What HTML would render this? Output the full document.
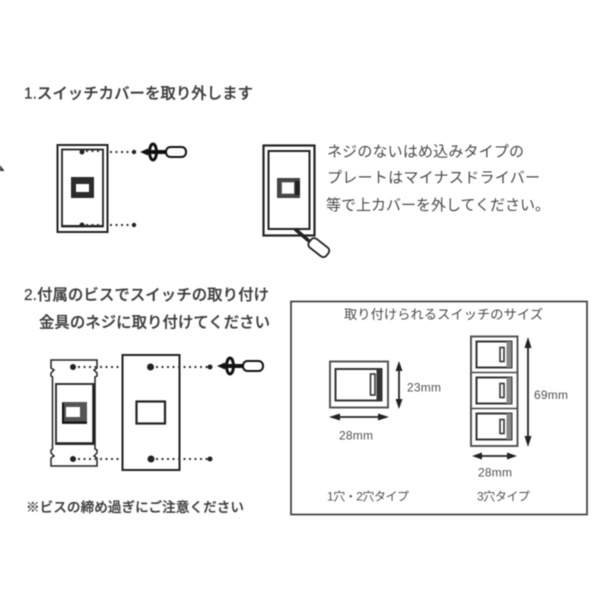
<!DOCTYPE html>
<html lang="ja"><head><meta charset="utf-8"><title>スイッチカバー</title>
<style>
html,body{margin:0;padding:0;background:#fff}
svg{display:block;filter:blur(.45px)}
text{font-family:"Liberation Sans","Noto Sans CJK JP",sans-serif;fill:#4a4a4a}
.h{font-size:15.4px;font-weight:500;fill:#3c3c3c;stroke:#3c3c3c;stroke-width:.25px}
.t{font-size:15px;fill:#484848}
.s{font-size:12px;fill:#505050}
.d{stroke:#333;stroke-width:2;stroke-dasharray:2 3.500;fill:none}
.l{fill:none;stroke:#222}
</style></head><body>
<svg width="600" height="600" viewBox="0 0 600 600" xmlns="http://www.w3.org/2000/svg">
<defs>
<g id="drv">
  <path d="M0 0l8-3.500v7z" fill="#111"/>
  <ellipse cx="13" cy="0" rx="3.500" ry="8" fill="none" stroke="#111" stroke-width="3"/>
  <rect x="6" y="-2" width="21" height="4" fill="#111"/>
  <rect x="26" y="-5" width="20" height="10" rx="4.500" fill="#fff" stroke="#111" stroke-width="2"/>
</g>
<g id="cell">
  <rect x="1" y="1" width="35" height="26" fill="#fff" stroke="#333" stroke-width="2"/>
  <rect x="31" y="1" width="5" height="26" fill="#888"/>
  <rect x="24.500" y="7" width="4" height="14" fill="#fff" stroke="#333" stroke-width="1.600"/>
</g>
</defs>

<path d="M0 165l4.500 6H0z" fill="#333"/>

<text class="h" x="24" y="98.500" textLength="229">1.スイッチカバーを取り外します</text>

<!-- diagram 1 -->
<rect x="57.500" y="145" width="50" height="87" class="l" stroke-width="2"/>
<rect x="62" y="149.500" width="41" height="77" class="l" stroke-width="1.800"/>
<path d="M62 226h41" stroke="#222" stroke-width="2"/>
<circle cx="82" cy="152" r="2.500" fill="#222"/><circle cx="82" cy="225" r="2.500" fill="#222"/>
<path d="M86 151h16M86 225h16" class="d"/>
<rect x="71" y="177" width="23" height="21" fill="#2b2b2b"/>
<rect x="76" y="184" width="13" height="8" fill="#fff"/>
<path d="M110 152h24M110 225h24" class="d"/>
<circle cx="134" cy="152" r="2.200" fill="#222"/><circle cx="134" cy="225" r="2.200" fill="#222"/>
<use href="#drv" x="140" y="152"/>

<!-- diagram 2 -->
<rect x="263.500" y="145.500" width="51" height="90" class="l" stroke-width="2.200"/>
<rect x="268.500" y="151" width="41" height="78" class="l" stroke-width="2"/>
<rect x="277" y="178" width="23" height="20" fill="#444"/>
<rect x="281.500" y="182" width="13" height="12" fill="#fff" stroke="#666" stroke-width="1"/>
<rect x="295" y="181" width="5" height="14" fill="#222"/>
<path d="M295 229l14 12" stroke="#222" stroke-width="3.500" fill="none"/>
<rect x="-10" y="-5.500" width="22" height="11" rx="4" transform="translate(318 247) rotate(38)" fill="#fff" stroke="#222" stroke-width="1.800"/>

<!-- right text -->
<text class="t" x="327" y="156.500" textLength="197">ネジのないはめ込みタイプの</text>
<text class="t" x="327" y="182.500" textLength="213">プレートはマイナスドライバー</text>
<text class="t" x="326" y="210" textLength="224">等で上カバーを外してください。</text>

<text class="h" x="24" y="300" textLength="245">2.付属のビスでスイッチの取り付け</text>
<text class="h" x="39" y="327.500" textLength="231">金具のネジに取り付けてください</text>

<!-- diagram 3 left piece -->
<path d="M51 360h46v8l-3 2 3 3v3l-2 1v72l2 1v3l-3 3 3 2v8H51v-8l3-2-3-3v-3l1.500-1v-72l-1.500-1v-3l3-3-3-2z" fill="#fff" stroke="#222" stroke-width="1.500"/>
<rect x="56" y="384" width="38" height="60" fill="#fff" stroke="#222" stroke-width="1.800"/>
<path d="M57 443.500h37M93.500 385v58" stroke="#222" stroke-width="2.500"/>
<rect x="62" y="402" width="25" height="22" fill="#555"/>
<rect x="66" y="407" width="14" height="10" fill="#fff"/>
<path d="M62 422.500h25M63 403v20" stroke="#111" stroke-width="2"/>
<circle cx="73" cy="367" r="3" fill="#222"/><circle cx="73" cy="459" r="3" fill="#222"/>
<path d="M78 367h18M78 459h18M100 367h21M100 459h21" class="d"/>

<!-- plate -->
<rect x="122.500" y="355" width="57" height="115" fill="#fff" stroke="#222" stroke-width="2"/>
<rect x="136.500" y="401.500" width="28.500" height="22" fill="#fff" stroke="#222" stroke-width="2.200"/>
<circle cx="150.500" cy="367" r="3.500" fill="#222"/><circle cx="151" cy="459" r="3.500" fill="#222"/>
<path d="M156 367h52M156 459h52" class="d"/>
<circle cx="210" cy="367" r="2.500" fill="#222"/><circle cx="210" cy="459" r="2.500" fill="#222"/>
<use href="#drv" x="217" y="366"/>

<text class="h" x="26" y="512" textLength="218" style="font-size:13.600px">※ビスの締め過ぎにご注意ください</text>

<!-- panel -->
<rect x="291" y="301.500" width="296" height="213" fill="none" stroke="#333" stroke-width="1.600"/>
<text class="t" x="344" y="319" textLength="199" style="font-size:13.200px">取り付けられるスイッチのサイズ</text>

<!-- single switch -->
<rect x="330" y="361.500" width="58" height="46" fill="#fff" stroke="#555" stroke-width="2"/>
<rect x="335.500" y="369" width="46" height="31.500" fill="#fff" stroke="#333" stroke-width="2"/>
<rect x="376.500" y="369" width="5.500" height="32" fill="#333"/>
<rect x="370.500" y="374" width="4.500" height="21" fill="#fff" stroke="#333" stroke-width="1.600"/>
<path d="M399 366v38" stroke="#222" stroke-width="1.800"/>
<path d="M399 361l3.500 10h-7zM399 409l3.500-10h-7z" fill="#222"/>
<path d="M334 417h50" stroke="#222" stroke-width="1.800"/>
<path d="M329 417l11-3.500v7zM389 417l-11-3.500v7z" fill="#222"/>
<text class="s" x="407" y="391.500" textLength="34">23mm</text>
<text class="s" x="339" y="439.500" textLength="34">28mm</text>

<!-- triple switch -->
<rect x="471" y="336.500" width="46.500" height="109.500" fill="#fff" stroke="#555" stroke-width="2"/>
<path d="M471 372.500h46M471 408.500h46" stroke="#444" stroke-width="1.600"/>
<use href="#cell" x="475.500" y="340.500"/>
<use href="#cell" x="475.500" y="376.500"/>
<use href="#cell" x="475.500" y="412.500"/>
<path d="M528 342v100" stroke="#222" stroke-width="1.800"/>
<path d="M528 337l3.500 11h-7zM528 447l3.500-11h-7z" fill="#222"/>
<path d="M476 456h37" stroke="#222" stroke-width="1.800"/>
<path d="M472 456l10-3.500v7zM517 456l-10-3.500v7z" fill="#222"/>
<text class="s" x="534" y="399" textLength="34">69mm</text>
<text class="s" x="478" y="476.500" textLength="34">28mm</text>

<text class="s" x="327" y="500.500" textLength="82" style="font-size:12px">1穴・2穴タイプ</text>
<text class="s" x="477" y="500.500" textLength="53" style="font-size:12px">3穴タイプ</text>
</svg>
</body></html>
